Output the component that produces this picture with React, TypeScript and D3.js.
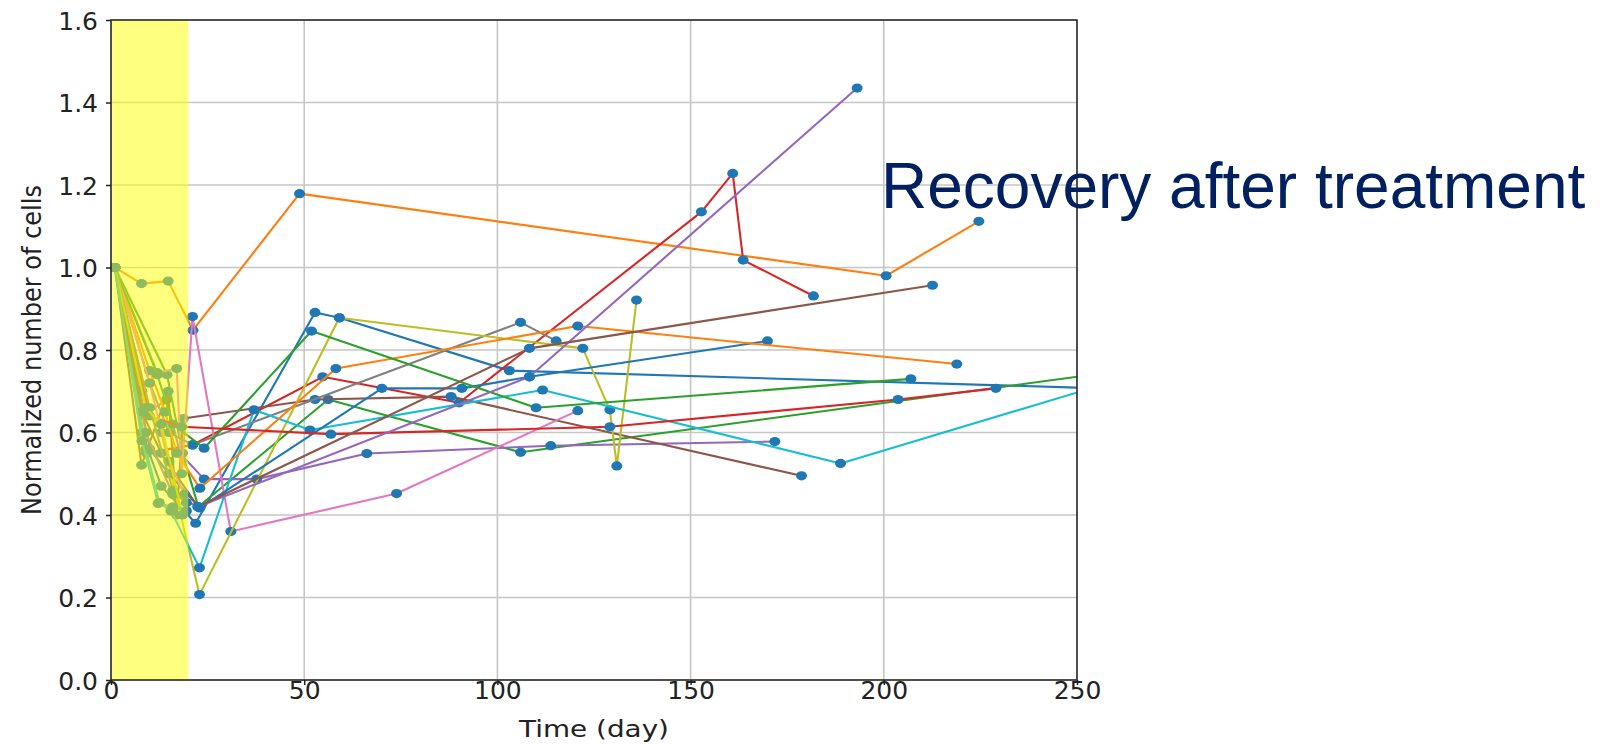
import React, { useEffect, useRef } from 'react';
import * as d3 from 'd3';

// Axis ticks
const xTicks = [0, 50, 100, 150, 200, 250];
const yTicks = [0, 0.2, 0.4, 0.6, 0.8, 1.0, 1.2, 1.4, 1.6];

// Treatment window (days)
const treatmentWindow = [0, 20];

// Cultures: [day, normalized number of cells]
const culture01 = [[1, 1.0], [8, 0.6], [13, 0.47], [21.9, 0.38], [52.8, 0.891], [59.1, 0.878], [103.1, 0.75], [260, 0.706]];
const culture02 = [[1, 1.0], [7.9, 0.961], [14.8, 0.967], [21.2, 0.848], [48.8, 1.179], [200.6, 0.98], [224.6, 1.112]];
const culture03 = [[1, 1.0], [14.5, 0.74], [18.5, 0.55], [22.6, 0.42], [56.2, 0.68], [106, 0.552], [260, 0.748]];
const culture04 = [[1, 1.0], [9.2, 0.55], [21.1, 0.57], [54.8, 0.735], [90.1, 0.672], [152.8, 1.135], [160.9, 1.228], [163.6, 1.018], [181.8, 0.931]];
const culture05 = [[1, 1.0], [8.8, 0.642], [14.4, 0.68], [17.9, 0.549], [24.1, 0.487], [37.7, 0.487], [66.2, 0.549], [113.8, 0.568], [171.8, 0.578]];
const culture06 = [[1, 1.0], [7.9, 0.521], [14.8, 0.7], [17, 0.4], [18.7, 0.634], [52.8, 0.68], [88, 0.687], [178.7, 0.495]];
const culture07 = [[1, 1.0], [12, 0.745], [17, 0.755], [18.3, 0.5], [21.1, 0.881], [31, 0.36], [73.9, 0.452], [120.8, 0.653]];
const culture08 = [[1, 1.0], [10, 0.72], [15, 0.6], [21.1, 0.57], [106, 0.867], [115.2, 0.822]];
const culture09 = [[1, 1.0], [8, 0.7], [13, 0.6], [22.9, 0.207], [59.1, 0.878], [122.1, 0.804], [129.1, 0.655], [130.9, 0.519], [136, 0.921]];
const culture10 = [[1, 1.0], [9, 0.56], [12.5, 0.43], [15.5, 0.41], [22.9, 0.272], [37, 0.655], [51.5, 0.606], [111.7, 0.703], [188.8, 0.525], [260, 0.725]];
const culture11 = [[1, 1.0], [10, 0.56], [15, 0.5], [23, 0.417], [70.1, 0.707], [90.8, 0.707], [108.3, 0.735], [169.9, 0.822]];
const culture12 = [[1, 1.0], [10, 0.75], [14, 0.65], [17, 0.55], [23, 0.465], [58.2, 0.755], [120.8, 0.858], [218.9, 0.766]];
const culture13 = [[1, 1.0], [12, 0.74], [16, 0.62], [24.1, 0.562], [51.9, 0.846], [110, 0.66], [207, 0.73]];
const culture14 = [[1, 1.0], [10, 0.64], [18.3, 0.614], [56.9, 0.596], [129.1, 0.614], [203.7, 0.68], [229, 0.707]];
const culture15 = [[1, 1.0], [9, 0.6], [16, 0.45], [22.5, 0.42], [108.3, 0.735], [193.1, 1.435]];
const culture16 = [[1, 1.0], [8, 0.65], [13, 0.55], [22.5, 0.42], [108.3, 0.804], [212.6, 0.957]];
const culture17 = [[1, 1.0], [10, 0.72], [15, 0.53], [19, 0.45]];
const culture18 = [[1, 1.0], [10, 0.66], [16, 0.46], [19.5, 0.43]];
const culture19 = [[1, 1.0], [9, 0.66], [13, 0.62], [18.5, 0.4]];
const culture20 = [[1, 1.0], [8, 0.58], [12.2, 0.428], [16, 0.42], [19.5, 0.41]];

const cultures = [
  culture01, culture02, culture03, culture04, culture05,
  culture06, culture07, culture08, culture09, culture10,
  culture11, culture12, culture13, culture14, culture15,
  culture16, culture17, culture18, culture19, culture20
];

function RecoveryChart() {
  const svgRef = useRef(null);

  useEffect(() => {
    const svg = d3.select(svgRef.current);
    svg.selectAll('*').remove();

    // Dimensions & margins
    const width = 1614;
    const height = 745;
    const margin = { top: 20, right: 537, bottom: 65, left: 111 };
    const innerWidth = width - margin.left - margin.right;
    const innerHeight = height - margin.top - margin.bottom;

    svg.attr('width', width)
      .attr('height', height)
      .attr('viewBox', `0 0 ${width} ${height}`);

    svg.append('rect')
      .attr('width', width)
      .attr('height', height)
      .attr('fill', '#fff');

    const g = svg.append('g')
      .attr('transform', `translate(${margin.left},${margin.top})`);

    // Scales
    const xScale = d3.scaleLinear().domain([0, 250]).range([0, innerWidth]);
    const yScale = d3.scaleLinear().domain([0, 1.6]).range([innerHeight, 0]);

    svg.append('defs')
      .append('clipPath')
      .attr('id', 'plot-clip')
      .append('rect')
      .attr('width', innerWidth)
      .attr('height', innerHeight);

    // Grid
    g.append('g')
      .selectAll('line')
      .data(xTicks)
      .join('line')
      .attr('x1', d => xScale(d))
      .attr('x2', d => xScale(d))
      .attr('y1', 0)
      .attr('y2', innerHeight)
      .attr('stroke', '#c6c6c6')
      .attr('stroke-width', 1.6);

    g.append('g')
      .selectAll('line')
      .data(yTicks)
      .join('line')
      .attr('x1', 0)
      .attr('x2', innerWidth)
      .attr('y1', d => yScale(d))
      .attr('y2', d => yScale(d))
      .attr('stroke', '#c6c6c6')
      .attr('stroke-width', 1.6);

    // Lines + points
    const line = d3.line()
      .x(d => xScale(d[0]))
      .y(d => yScale(d[1]));

    const plot = g.append('g').attr('clip-path', 'url(#plot-clip)');

    cultures.forEach((pts, i) => {
      plot.append('path')
        .datum(pts)
        .attr('d', line)
        .attr('fill', 'none')
        .attr('stroke', d3.schemeCategory10[i % 10])
        .attr('stroke-width', 2.1)
        .attr('stroke-linejoin', 'round');

      plot.selectAll(null)
        .data(pts)
        .enter()
        .append('ellipse')
        .attr('cx', d => xScale(d[0]))
        .attr('cy', d => yScale(d[1]))
        .attr('rx', 5.5)
        .attr('ry', 4.6)
        .attr('fill', '#1f77b4');
    });

    // Treatment window span (drawn on top, semi transparent)
    g.append('rect')
      .attr('x', xScale(treatmentWindow[0]))
      .attr('y', 0)
      .attr('width', xScale(treatmentWindow[1]) - xScale(treatmentWindow[0]))
      .attr('height', innerHeight)
      .attr('fill', '#ffff00')
      .attr('opacity', 0.5);

    // X axis
    const xAxis = g.append('g')
      .attr('transform', `translate(0,${innerHeight})`)
      .call(d3.axisBottom(xScale).tickValues(xTicks).tickSize(5).tickSizeOuter(0).tickFormat(d3.format('d')));
    xAxis.select('.domain').remove();
    xAxis.selectAll('line').attr('stroke', '#222').attr('stroke-width', 1.5);
    xAxis.selectAll('text')
      .attr('y', 19)
      .attr('dy', 0)
      .attr('fill', '#222')
      .attr('font-size', 25)
      .attr('font-family', 'DejaVu Sans');

    // Y axis
    const yAxis = g.append('g')
      .call(d3.axisLeft(yScale).tickValues(yTicks).tickSize(5).tickSizeOuter(0).tickFormat(d3.format('.1f')));
    yAxis.select('.domain').remove();
    yAxis.selectAll('line').attr('stroke', '#222').attr('stroke-width', 1.5);
    yAxis.selectAll('text')
      .attr('x', -13)
      .attr('dy', '0.36em')
      .attr('fill', '#222')
      .attr('font-size', 25)
      .attr('font-family', 'DejaVu Sans');

    // Spines
    g.append('rect')
      .attr('width', innerWidth)
      .attr('height', innerHeight)
      .attr('fill', 'none')
      .attr('stroke', '#222')
      .attr('stroke-width', 1.5);

    // Axis labels
    g.append('text')
      .attr('x', innerWidth / 2)
      .attr('y', innerHeight + 57)
      .attr('text-anchor', 'middle')
      .attr('font-family', 'DejaVu Sans')
      .attr('font-size', 23)
      .attr('textLength', 150)
      .attr('lengthAdjust', 'spacingAndGlyphs')
      .attr('fill', '#222')
      .text('Time (day)');

    g.append('text')
      .attr('transform', `translate(${-margin.left + 41},${innerHeight / 2}) rotate(-90)`)
      .attr('text-anchor', 'middle')
      .attr('font-family', 'DejaVu Sans')
      .attr('font-size', 27)
      .attr('textLength', 330)
      .attr('lengthAdjust', 'spacingAndGlyphs')
      .attr('fill', '#222')
      .text('Normalized number of cells');

    // Annotation
    svg.append('text')
      .attr('x', 881)
      .attr('y', 207.5)
      .attr('font-family', 'Liberation Sans, Arial, sans-serif')
      .attr('font-size', 64)
      .attr('fill', '#002060')
      .text('Recovery after treatment');
  }, []);

  return (
    <svg ref={svgRef} style={{ position: 'absolute', left: 0, top: 0 }} />
  );
}

export default function App() {
  return <RecoveryChart />;
}
